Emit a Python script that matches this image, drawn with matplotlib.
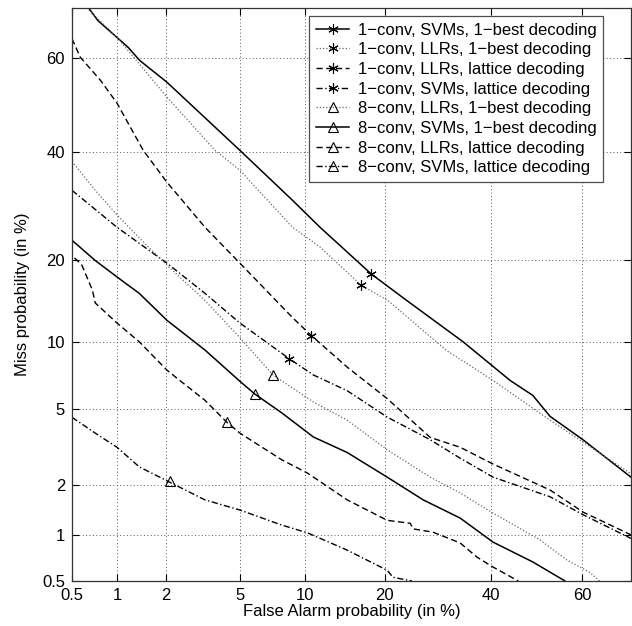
import math
from statistics import NormalDist

import numpy as np
import matplotlib
matplotlib.use("Agg")
import matplotlib.pyplot as plt
from matplotlib.lines import Line2D
from matplotlib.ticker import NullLocator

plt.rcParams['font.family'] = ['Liberation Sans', 'DejaVu Sans']

# DET curves, values in %
labels = ["1\u2212conv, SVMs, 1\u2212best decoding",
          "1\u2212conv, LLRs, 1\u2212best decoding",
          "1\u2212conv, LLRs, lattice decoding",
          "1\u2212conv, SVMs, lattice decoding",
          "8\u2212conv, LLRs, 1\u2212best decoding",
          "8\u2212conv, SVMs, 1\u2212best decoding",
          "8\u2212conv, LLRs, lattice decoding",
          "8\u2212conv, SVMs, lattice decoding"]
ticks = [0.5, 1, 2, 5, 10, 20, 40, 60]

fa_1 = [0.65, 0.75, 1.18, 1.39, 2.02, 5.0, 8.8, 11.5, 18.0, 23.6, 34.2, 44.2, 49.2, 53.0, 60.2, 70.0]
miss_1 = [70.0, 67.6, 62.2, 59.5, 54.9, 40.3, 30.3, 25.4, 18.0, 14.5, 10.0, 6.8, 5.8, 4.6, 3.5, 2.2]

fa_2 = [0.63, 1.0, 2.02, 3.73, 5.0, 8.8, 11.5, 16.5, 20.5, 30.9, 40.5, 53.0, 60.2, 70.0]
miss_2 = [70.0, 64.3, 51.7, 40.3, 36.2, 25.4, 22.1, 16.5, 14.5, 9.2, 6.8, 4.4, 3.4, 2.3]

fa_3 = [0.5, 0.57, 0.78, 1.0, 1.18, 1.46, 2.02, 3.3, 5.0, 8.8, 10.6, 14.7, 20.4, 27.8, 33.6, 40.5, 53.0, 60.2, 70.0]
miss_3 = [64.0, 60.2, 55.3, 50.4, 46.0, 40.3, 33.8, 25.4, 19.6, 12.5, 10.6, 7.8, 5.6, 3.6, 3.2, 2.6, 1.86, 1.38, 1.0]

fa_4 = [0.5, 1.0, 2.02, 3.3, 5.0, 8.5, 10.8, 14.7, 20.4, 27.8, 33.6, 40.5, 53.0, 60.2, 70.0]
miss_4 = [32.2, 25.4, 19.6, 15.4, 11.9, 8.5, 7.2, 6.1, 4.56, 3.5, 2.8, 2.2, 1.7, 1.33, 0.95]

fa_5 = [0.5, 0.72, 1.0, 1.38, 2.02, 3.3, 5.0, 7.2, 10.8, 14.7, 20.4, 27.8, 33.6, 40.5, 50.8, 56.7, 61.7, 63.7]
miss_5 = [38.0, 32.2, 27.6, 23.6, 19.3, 14.5, 10.4, 7.2, 5.4, 4.4, 3.1, 2.2, 1.79, 1.36, 0.93, 0.69, 0.57, 0.5]

fa_6 = [0.5, 0.72, 1.0, 1.38, 2.02, 3.3, 4.95, 5.9, 7.9, 10.8, 14.7, 20.4, 26.5, 33.6, 40.5, 49.2, 56.3]
miss_6 = [23.2, 20.0, 17.6, 15.4, 12.2, 9.24, 6.8, 5.9, 4.78, 3.62, 3.0, 2.2, 1.63, 1.27, 0.90, 0.67, 0.5]

fa_7 = [0.52, 0.585, 0.69, 0.72, 1.0, 1.38, 2.02, 2.38, 3.3, 4.3, 5.0, 7.9, 10.2, 14.7, 20.4, 24.2, 24.7, 28.3, 33.6, 37.1, 40.5, 46.0]
miss_7 = [20.4, 19.3, 15.8, 14.2, 11.9, 10.0, 7.57, 6.83, 5.5, 4.3, 3.79, 2.74, 2.32, 1.63, 1.23, 1.18, 1.09, 1.04, 0.89, 0.72, 0.62, 0.5]

fa_8 = [0.5, 0.72, 1.0, 1.38, 2.08, 3.3, 5.0, 7.9, 10.2, 14.7, 20.4, 21.3, 24.5]
miss_8 = [4.55, 3.79, 3.2, 2.51, 2.07, 1.63, 1.42, 1.15, 1.03, 0.80, 0.59, 0.53, 0.5]

# equal error rate points (marker position)
eer = [18.0, 16.5, 10.6, 8.5, 7.2, 5.9, 4.3, 2.1]

fa_all = [fa_1, fa_2, fa_3, fa_4, fa_5, fa_6, fa_7, fa_8]
miss_all = [miss_1, miss_2, miss_3, miss_4, miss_5, miss_6, miss_7, miss_8]

# normal deviate scale (DET)
_nd = NormalDist()
_ppf = np.vectorize(lambda p: _nd.inv_cdf(min(max(p / 100.0, 1e-9), 1 - 1e-9)) if p == p else np.nan,
                    otypes=[float])
_cdf = np.vectorize(lambda z: 50.0 * (1.0 + math.erf(z / math.sqrt(2.0))) if z == z else np.nan,
                    otypes=[float])


def probit(p):
    return _ppf(np.asarray(p, dtype=float))


def unprobit(z):
    return _cdf(np.asarray(z, dtype=float))


solid = '-'
dotted = (0, (1, 1.6))
dashed = (0, (4.5, 2.5))
dashdot = (0, (4.5, 1.8, 1, 1.8))
styles = [solid, dotted, dashed, dashdot, dotted, solid, dashed, dashdot]
colors = ['black', '0.4', 'black', 'black', '0.4', 'black', 'black', 'black']
widths = [1.1, 0.9, 1.0, 1.0, 0.9, 1.1, 1.0, 1.0]
star = (6, 2, 0)
markers = [star, star, star, star, '^', '^', '^', '^']

fig = plt.figure(figsize=(6.32, 6.26), dpi=100)
ax = fig.add_axes([72 / 632, 45 / 626, 559 / 632, 573 / 626])
ax.set_xscale('function', functions=(probit, unprobit))
ax.set_yscale('function', functions=(probit, unprobit))

handles = []
for i in range(8):
    ax.plot(fa_all[i], miss_all[i], color=colors[i], ls=styles[i], lw=widths[i])
    ax.plot([eer[i]], [eer[i]], ls='none', marker=markers[i], ms=7.5,
            mfc='none', mec='black', mew=0.8)
    handles.append(Line2D([], [], color=colors[i], ls=styles[i], lw=widths[i],
                          marker=markers[i], ms=7.5, mfc='none', mec='black', mew=0.8))

ax.set_xlim(0.5, 70)
ax.set_ylim(0.5, 70)
ax.set_xticks(ticks)
ax.set_yticks(ticks)
ax.set_xticklabels([f'{t:g}' for t in ticks])
ax.set_yticklabels([f'{t:g}' for t in ticks])
ax.xaxis.set_minor_locator(NullLocator())
ax.yaxis.set_minor_locator(NullLocator())
ax.tick_params(direction='in', length=5, width=0.8, top=True, right=True,
               labelsize=12, pad=5)
ax.grid(True, color='0.35', ls=(0, (1, 2.5)), lw=0.7)
for s in ax.spines.values():
    s.set_linewidth(0.9)
    s.set_color('0.2')

ax.set_xlabel('False Alarm probability (in %)', fontsize=12, labelpad=1)
ax.set_ylabel('Miss probability (in %)', fontsize=12, labelpad=9)

leg = ax.legend(handles, labels, loc='upper right', bbox_to_anchor=(603 / 632, 1 - 16 / 626),
                bbox_transform=fig.transFigure, borderaxespad=0, fontsize=12,
                handlelength=2.0, handletextpad=0.5, labelspacing=0.28, borderpad=0.4,
                fancybox=False, framealpha=1)
leg.get_frame().set_edgecolor('0.3')
leg.get_frame().set_linewidth(0.9)

fig.savefig('out.png', dpi=100)
